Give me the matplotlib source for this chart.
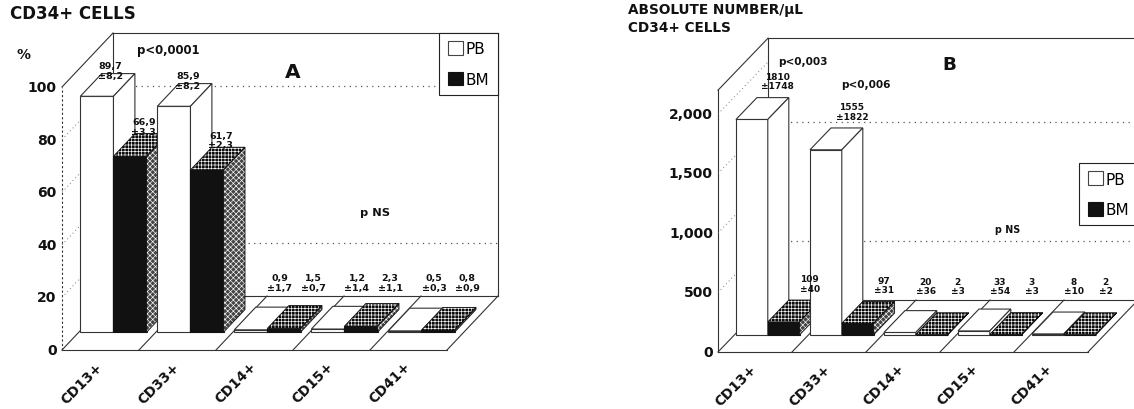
import matplotlib
matplotlib.use("Agg")
import matplotlib.pyplot as plt
from matplotlib.patches import Polygon, Patch

# ---------------- data ----------------
categories = ["CD13+", "CD33+", "CD14+", "CD15+", "CD41+"]
series_names = ["PB", "BM"]

pct_pb = [89.7, 85.9, 0.9, 1.2, 0.5]
pct_pb_sd = [8.2, 8.2, 1.7, 1.4, 0.3]
pct_bm = [66.9, 61.7, 1.5, 2.3, 0.8]
pct_bm_sd = [3.3, 2.3, 0.7, 1.1, 0.9]
pct_ticks = [0, 20, 40, 60, 80, 100]
pct_tick_labels = ["0", "20", "40", "60", "80", "100"]
pct_grid = [80, 20]

abs_pb = [1810, 1555, 20, 33, 8]
abs_pb_sd = [1748, 1822, 36, 54, 10]
abs_bm = [109, 97, 2, 3, 2]
abs_bm_sd = [40, 31, 3, 3, 2]
abs_ticks = [0, 500, 1000, 1500, 2000]
abs_tick_labels = ["0", "500", "1,000", "1,500", "2,000"]
abs_grid = [1500, 500]

# ---------------- style / layout ----------------
W, H = 1134, 410
LC = "#333333"
LW = 0.8
plt.rcParams["font.family"] = ["DejaVu Sans"]
plt.rcParams["hatch.linewidth"] = 0.45

fig = plt.figure(figsize=(W / 100, H / 100), dpi=100)
fig.patch.set_facecolor("white")


def make_axes(left, y_front0, cat_px, unit_px, depth_px, ncat, ymax):
    dx = depth_px[0] / cat_px
    dy = depth_px[1] / unit_px
    width = (ncat + dx) * cat_px
    height = (ymax + dy) * unit_px
    ax = fig.add_axes([left / W, (H - y_front0) / H, width / W, height / H])
    ax.set_xlim(0, ncat + dx)
    ax.set_ylim(0, ymax + dy)
    ax.axis("off")
    return ax, dx, dy, unit_px


def draw_panel(ax, dx, dy, unit_px, pb, pb_sd, bm, bm_sd, ticks, tick_labels,
               grid, ymax, fmt, front_axis_ls, lab_depth_tall, lab_depth_short,
               lab_floor, tick_fs, lab_fs, xlab_fs):
    n = len(categories)
    f0, f1 = 0.33, 0.75

    def P(x, v, d):
        return (x + d * dx, v + d * dy)

    kw = dict(color=LC, lw=LW, clip_on=False, zorder=1)
    # floor
    ax.plot([0, n], [0, 0], **kw)
    ax.plot([dx, n + dx], [dy, dy], **kw)
    for i in range(n + 1):
        ax.plot([i, i + dx], [0, dy], **kw)
    # walls
    ax.plot([0, 0], [0, ymax], color=LC, lw=LW, ls=front_axis_ls, clip_on=False, zorder=1)
    ax.plot([0, dx], [ymax, ymax + dy], **kw)
    ax.plot([dx, dx], [dy, ymax + dy], **kw)
    ax.plot([dx, n + dx], [ymax + dy, ymax + dy], **kw)
    ax.plot([n + dx, n + dx], [dy, ymax + dy], **kw)
    for g in grid:
        ax.plot([dx, n + dx], [g + dy, g + dy], color="#555555", lw=0.9,
                ls=(0, (1, 3.5)), clip_on=False, zorder=1)
    for t, lab in zip(ticks, tick_labels):
        if 0 < t < ymax:
            ax.plot([0, dx], [t, t + dy], color="#777777", lw=0.7,
                    ls=(0, (1, 3)), clip_on=False, zorder=1)
        ax.text(-0.07, t, lab, ha="right", va="center",
                fontsize=tick_fs, fontweight="bold", color="#111111")

    # bars
    for i in range(n):
        specs = [(i + 0.02, 0.43, pb[i], pb_sd[i], "pb"),
                 (i + 0.45, 0.43, bm[i], bm_sd[i], "bm")]
        for x0, w, v, sd, kind in specs:
            x1 = x0 + w
            top = [P(x0, v, f0), P(x1, v, f0), P(x1, v, f1), P(x0, v, f1)]
            side = [P(x1, 0, f0), P(x1, v, f0), P(x1, v, f1), P(x1, 0, f1)]
            if kind == "pb":
                ax.bar(x0 + f0 * dx, v, width=w, bottom=f0 * dy, align="edge",
                       facecolor="white", edgecolor=LC, lw=LW, zorder=2, clip_on=False)
                ax.add_patch(Polygon(top, closed=True, facecolor="white",
                                     edgecolor=LC, lw=LW, zorder=2, clip_on=False))
                ax.add_patch(Polygon(side, closed=True, facecolor="white",
                                     edgecolor=LC, lw=LW, zorder=2, clip_on=False))
            else:
                ax.bar(x0 + f0 * dx, v, width=w, bottom=f0 * dy, align="edge",
                       facecolor="#111111", edgecolor="#111111", lw=LW, zorder=2,
                       clip_on=False)
                with plt.rc_context({"hatch.color": "white"}):
                    ax.add_patch(Polygon(top, closed=True, facecolor="#0d0d0d",
                                         hatch="+++++", zorder=2, clip_on=False))
                    ax.add_patch(Polygon(side, closed=True, facecolor="#444444",
                                         hatch="xxxxxx", zorder=2, clip_on=False))
                ax.add_patch(Polygon(top, closed=True, fill=False, edgecolor="#111111",
                                     lw=0.6, zorder=2, clip_on=False))
                ax.add_patch(Polygon(side, closed=True, fill=False, edgecolor="#111111",
                                     lw=0.6, zorder=2, clip_on=False))
            tall = v > 0.1 * ymax
            d = lab_depth_tall if tall else lab_depth_short
            lx, ly = P(x0 + w / 2, max(v, lab_floor), d)
            pad = (6 if (tall and kind == "bm") else 2) / unit_px
            ax.text(lx, ly + pad, f"{fmt(v)}\n±{fmt(sd)}", ha="center",
                    va="bottom", fontsize=lab_fs, fontweight="bold",
                    linespacing=1.05, color="#111111", zorder=5, clip_on=False)

    for i, cat in enumerate(categories):
        ax.text(i + 0.56, -9 / unit_px, cat, rotation=45, ha="right", va="top",
                fontsize=xlab_fs, fontweight="bold", color="#111111")


def add_legend(ax, loc, anchor):
    handles = [Patch(facecolor="white", edgecolor="#444444", lw=0.8),
               Patch(facecolor="#111111", edgecolor="#111111", lw=0.8)]
    leg = ax.legend(handles, series_names, loc=loc, bbox_to_anchor=anchor,
                    frameon=True, fancybox=False, edgecolor="#222222",
                    framealpha=1, fontsize=11, handlelength=1.0,
                    handleheight=1.0, handletextpad=0.2, borderpad=0.55,
                    labelspacing=1.0, borderaxespad=0)
    leg.get_frame().set_linewidth(0.8)
    leg.set_zorder(10)


def fmt_pct(v):
    return f"{v:.1f}".replace(".", ",")


def fmt_abs(v):
    return f"{int(v)}"


# ---------------- panel A ----------------
axA, dxA, dyA, uA = make_axes(62, 351, 77, 2.63, (51, 54), len(categories), 100)
draw_panel(axA, dxA, dyA, uA, pct_pb, pct_pb_sd, pct_bm, pct_bm_sd, pct_ticks,
           pct_tick_labels, pct_grid, 100, fmt_pct, (0, (2, 2)), 0.6, 0.9, 3,
           10, 6.8, 9.8)
add_legend(axA, "upper right", (1.0, 1.0))
axA.text(0.974, 114.4, "p<0,0001", ha="left", va="center", fontsize=8.4,
         fontweight="bold", color="#111111")
axA.text(2.99, 106, "A", ha="center", va="center", fontsize=14.5,
         fontweight="bold", color="#111111")
axA.text(4.06, 52.5, "p NS", ha="center", va="center", fontsize=8.2,
         fontweight="bold", color="#111111")
axA.text(-0.494, 112.5, "%", ha="center", va="center", fontsize=10,
         fontweight="bold", color="#111111", clip_on=False)
fig.text(10 / W, 1 - 14 / H, "CD34+ CELLS", ha="left", va="center",
         fontsize=12, fontweight="bold", color="#111111")

# ---------------- panel B ----------------
axB, dxB, dyB, uB = make_axes(718, 353, 74, 0.119, (50, 52), len(categories), 2200)
draw_panel(axB, dxB, dyB, uB, abs_pb, abs_pb_sd, abs_bm, abs_bm_sd, abs_ticks,
           abs_tick_labels, abs_grid, 2200, fmt_abs, "-", 0.85, 0.85, 88,
           10, 6.5, 9.8)
add_legend(axB, "upper left", (0.86, 0.602))
axB.text(0.81, 2445, "p<0,003", ha="left", va="center", fontsize=7.6,
         fontweight="bold", color="#111111")
axB.text(3.12, 2420, "B", ha="center", va="center", fontsize=13.2,
         fontweight="bold", color="#111111")
axB.text(1.66, 2252, "p<0,006", ha="left", va="center", fontsize=7.6,
         fontweight="bold", color="#111111")
axB.text(3.91, 1034, "p NS", ha="center", va="center", fontsize=6.9,
         fontweight="bold", color="#111111")
fig.text(628 / W, 1 - 10 / H, "ABSOLUTE NUMBER/\u03bcL", ha="left", va="center",
         fontsize=9.8, fontweight="bold", color="#111111")
fig.text(628 / W, 1 - 28 / H, "CD34+ CELLS", ha="left", va="center",
         fontsize=9.8, fontweight="bold", color="#111111")

fig.savefig("out.png", dpi=100, facecolor="white")
